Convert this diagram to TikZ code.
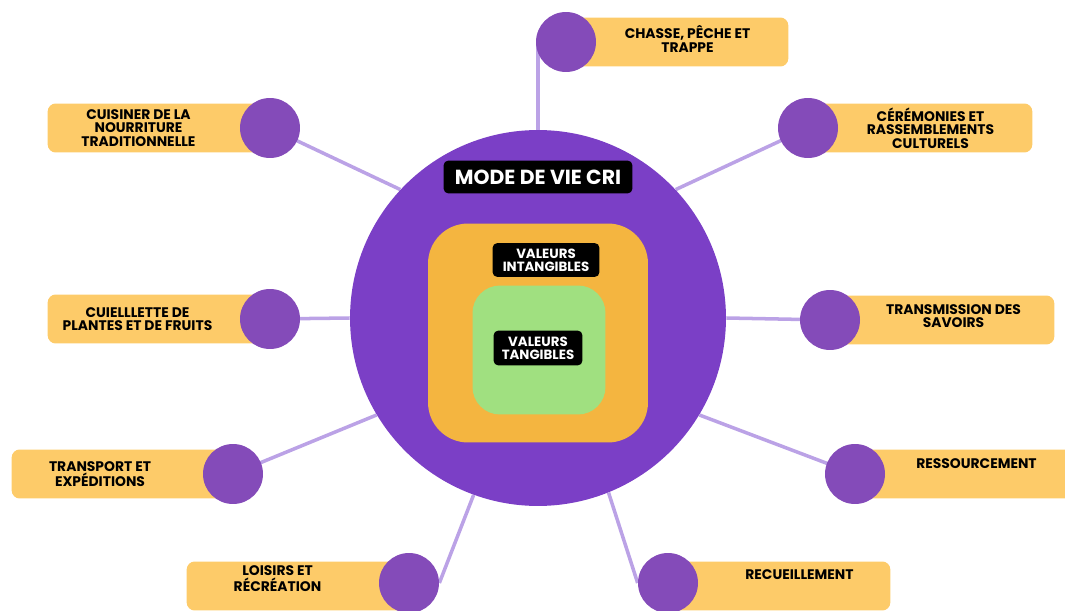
\documentclass[tikz,border=0pt]{standalone}
\usepackage{fontspec}
\setmainfont{Poppins}
\usetikzlibrary{positioning,calc,backgrounds}
\definecolor{hubpurple}{HTML}{7B3FC6}
\definecolor{dotpurple}{HTML}{844BB9}
\definecolor{linkpurple}{HTML}{BBA2E6}
\definecolor{itemorange}{HTML}{FDCB69}
\definecolor{squareorange}{HTML}{F4B540}
\definecolor{squaregreen}{HTML}{A0E080}

\begin{document}
\begin{tikzpicture}[
  x=0.02cm, y=-0.02cm,
  hubdisc/.style={circle, fill=hubpurple, minimum size=7.52cm, inner sep=0pt},
  dot/.style={circle, fill=dotpurple, minimum size=1.2cm, inner sep=0pt},
  item/.style={rectangle, fill=itemorange, rounded corners=0.16cm, minimum width=4.44cm, minimum height=0.98cm, inner sep=0pt},
  itemtext/.style={font=\bfseries\fontsize{7.9}{7.6}\selectfont, align=center, inner sep=0pt},
  tag/.style={rectangle, fill=black, rounded corners=0.1cm, text=white, font=\bfseries\fontsize{7.6}{7.2}\selectfont, align=center, inner sep=0pt},
  link/.style={draw=linkpurple, line width=2pt},
]
  \useasboundingbox (0,0) rectangle (1065,611);

  \node[hubdisc] (hub) at (538,318) {};
  \node[rectangle, fill=squareorange, rounded corners=0.8cm, minimum width=4.4cm, minimum height=4.38cm] (intang) at (538,333) {};
  \node[rectangle, fill=squaregreen, rounded corners=0.55cm, minimum width=2.66cm, minimum height=2.58cm] (tang) at (539,350) {};
  \node[tag, minimum width=3.78cm, minimum height=0.66cm, font=\bfseries\fontsize{11.6}{12}\selectfont] (titre) at (538,177) {MODE DE VIE CRI};
  \node[tag, minimum width=2.14cm, minimum height=0.68cm] (tagint) at (546,260) {VALEURS\\INTANGIBLES};
  \node[tag, minimum width=1.78cm, minimum height=0.7cm] (tagtan) at (538,348) {VALEURS\\TANGIBLES};

  \node[item, anchor=west] (b1) at (566,42) {};
  \node[dot] (c1) at (b1.west) {};
  \node[itemtext, xshift=-0.1cm, yshift=0.06cm] (t1) at ($(c1.east)!0.5!(b1.east)$) {CHASSE, PÊCHE ET\\TRAPPE};

  \node[item, anchor=east] (b2) at (270,128) {};
  \node[dot] (c2) at (b2.east) {};
  \node[itemtext, xshift=-0.1cm] (t2) at ($(b2.west)!0.5!(c2.west)$) {CUISINER DE LA\\NOURRITURE\\TRADITIONNELLE};

  \node[item, anchor=west, minimum width=4.48cm] (b3) at (808,128) {};
  \node[dot] (c3) at (b3.west) {};
  \node[itemtext, xshift=-0.1cm] (t3) at ($(c3.east)!0.5!(b3.east)$) {CÉRÉMONIES ET\\RASSEMBLEMENTS\\CULTURELS};

  \node[item, anchor=east] (b4) at (270,319) {};
  \node[dot] (c4) at (b4.east) {};
  \node[itemtext, xshift=-0.12cm] (t4) at ($(b4.west)!0.5!(c4.west)$) {CUIELLLETTE DE\\PLANTES ET DE FRUITS};

  \node[item, anchor=west, minimum width=4.48cm] (b5) at (830,320) {};
  \node[dot] (c5) at (b5.west) {};
  \node[itemtext, xshift=-0.08cm, yshift=0.08cm] (t5) at ($(c5.east)!0.5!(b5.east)$) {TRANSMISSION DES\\SAVOIRS};

  \node[item, anchor=east, minimum width=4.42cm] (b6) at (233,474) {};
  \node[dot] (c6) at (b6.east) {};
  \node[itemtext, xshift=-0.14cm] (t6) at ($(b6.west)!0.5!(c6.west)$) {TRANSPORT ET\\EXPÉDITIONS};

  \node[item, anchor=west] (b7) at (855,474) {};
  \node[dot] (c7) at (b7.west) {};
  \node[itemtext, xshift=-0.1cm, yshift=0.2cm] (t7) at ($(c7.east)!0.5!(b7.east)$) {RESSOURCEMENT};

  \node[item, anchor=east] (b8) at (409,586) {};
  \node[dot] (c8) at (409,583) {};
  \node[itemtext, xshift=-0.1cm, yshift=0.12cm] (t8) at ($(b8.west)!0.5!(c8.west)$) {LOISIRS ET\\RÉCRÉATION};

  \node[item, anchor=west] (b9) at (668,586) {};
  \node[dot] (c9) at (668,583) {};
  \node[itemtext, xshift=0.1cm, yshift=0.2cm] (t9) at ($(c9.east)!0.5!(b9.east)$) {RECUEILLEMENT};

  \begin{scope}[on background layer]
    \draw[link] (hub.90) -- (hub.90 |- c1.center);
    \draw[link] (hub.137) -- (c2.center);
    \draw[link] (hub.43) -- (c3.center);
    \draw[link] (hub.180) -- (c4.center);
    \draw[link] (hub.0) -- (c5.center);
    \draw[link] (hub.211) -- (c6.center);
    \draw[link] (hub.-31) -- (c7.center);
    \draw[link] (hub.250) -- (c8.east);
    \draw[link] (hub.292) -- (c9.west);
  \end{scope}
\end{tikzpicture}
\end{document}
